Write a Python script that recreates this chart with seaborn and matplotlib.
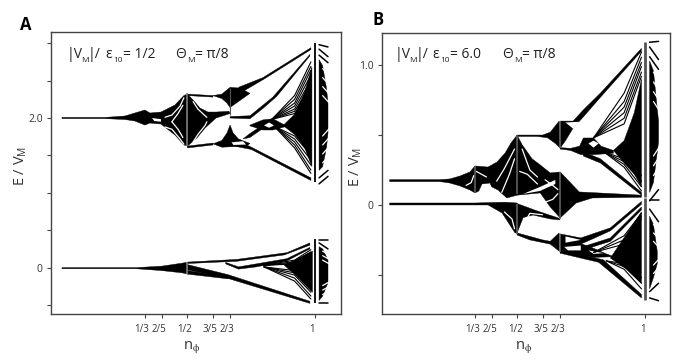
import numpy as np
import pandas as pd
import matplotlib
matplotlib.use("Agg")
import matplotlib.pyplot as plt
from matplotlib import transforms
import seaborn as sns

sns.set_style("white")
plt.rcParams['font.family'] = ['Open Sans', 'DejaVu Sans']
plt.rcParams['mathtext.fontset'] = 'custom'
plt.rcParams['mathtext.rm'] = 'Open Sans'
plt.rcParams['mathtext.it'] = 'Open Sans'
plt.rcParams['mathtext.default'] = 'regular'

TICK_N = [1/3, 2/5, 1/2, 3/5, 2/3, 1]
TICK_LABELS = ['1/3', '2/5', '1/2', '3/5', '2/3', '1']
A_YTICKS = [-0.5, 0, 0.5, 1.0, 1.5, 2.0, 2.5, 3.0]
B_YTICKS = [-0.5, 0, 0.5, 1.0]

# ---------- Panel A: black regions (n_phi, E) ----------
A_TAIL_N = [.008,.176,.255,.294,.333,.353,.396,.451,.486,.5,.5,.486,.451,.396,.353,.333,.294,.255,.176,.008]
A_TAIL_E = [2.008,2.008,2.027,2.067,2.107,2.067,2.08,2.174,2.30,2.321,1.625,1.64,1.773,1.92,1.933,1.906,1.96,1.98,1.992,1.992]
A_STAR_N = [.5,.522,.549,.58,.612,.663,.667,.612,.569,.537,.5]
A_STAR_E = [2.32,2.241,2.134,2.08,2.08,2.09,2.06,2.0,1.866,1.733,1.625]
A_TOPARM_N = [.5,.6,.6,.5]
A_TOPARM_E = [2.32,2.30,2.28,2.30]
A_TOPLOBE_N = [.60,.635,.667,.706,.745,.667,.655,.635]
A_TOPLOBE_E = [2.30,2.32,2.41,2.40,2.33,2.14,2.20,2.26]
A_TOPLINE_N = [.70,.796,.984,.984,.80,.72]
A_TOPLINE_E = [2.41,2.54,2.94,2.915,2.52,2.36]
A_MID_N = [.667,.745,.835,.98,.98,.85,.80,.745,.667]
A_MID_E = [2.02,2.03,2.28,2.85,2.83,2.29,2.14,1.99,2.0]
A_CLUSTER_N = [.745,.796,.835,.89,.835,.796,.745]
A_CLUSTER_E = [1.905,1.975,1.99,1.89,1.84,1.84,1.895]
A_BOTARM_N = [.5,.6,.6,.5]
A_BOTARM_E = [1.625,1.665,1.64,1.60]
A_LOWLOBE_N = [.60,.635,.655,.667,.679,.70,.745,.73,.667,.635]
A_LOWLOBE_E = [1.655,1.70,1.80,1.906,1.80,1.72,1.66,1.62,1.615,1.61]
A_LINK_N = [.718,.745,.80,.80,.74]
A_LINK_E = [1.72,1.74,1.87,1.92,1.78]
A_BOTLINE_N = [.718,.745,.984,.984,.75,.69]
A_BOTLINE_E = [1.66,1.62,1.20,1.165,1.58,1.62]
A_DENSE_N = [.875,.92,.96,.988,.988,.96,.92]
A_DENSE_E = [1.90,2.05,2.35,2.68,1.35,1.60,1.78]
A_LENS_N = [1.016,1.03,1.045,1.051,1.051,1.045,1.03,1.016]
A_LENS_E = [2.78,2.70,2.40,2.20,1.80,1.60,1.35,1.30]

A_LOW_TAIL_N = [.008,.30,.40,.48,.5,.5,.48,.40,.30,.008]
A_LOW_TAIL_E = [.0,.0,.02,.06,.074,-.087,-.07,-.04,-.015,-.015]
A_LOW_TOP_N = [.5,.694,.89,.98,.98,.88,.694,.5]
A_LOW_TOP_E = [.074,.11,.20,.33,.30,.17,.085,.055]
A_LOW_BOT_N = [.5,.66,.98,.98,.65,.5]
A_LOW_BOT_E = [.04,-.095,-.45,-.478,-.135,-.03]
A_LOW_BOT2_N = [.5,.66,.66,.5]
A_LOW_BOT2_E = [-.04,-.12,-.15,-.087]
A_LOW_MID_N = [.65,.70,.77,.89,.98,.98,.89,.77,.70,.65]
A_LOW_MID_E = [.07,.01,.05,.12,.27,.25,.09,.01,-.02,.05]
A_LOW_DENSE_N = [.88,.99,.99,.93]
A_LOW_DENSE_E = [.03,.22,-.33,-.12]
A_LOW_LENS_N = [1.016,1.03,1.051,1.051,1.03,1.016]
A_LOW_LENS_E = [.28,.25,.10,-.20,-.38,-.44]

# white gaps of panel A
A_HOLE1_N = [.361,.396,.396,.37]
A_HOLE1_E = [2.0,1.985,1.95,1.96]
A_HOLE2_N = [.673,.718,.73,.68]
A_HOLE2_E = [1.675,1.69,1.645,1.64]
A_HOLE3_N = [.80,.82,.84,.82]
A_HOLE3_E = [1.90,1.94,1.90,1.87]

# ---------- Panel B: black regions ----------
B_TAIL_N = [0,.197,.236,.276,.315,.335,.335,.315,.276,.236,.197,0]
B_TAIL_E = [.181,.181,.186,.207,.236,.279,.086,.107,.136,.157,.167,.167]
B_MID_N = [.335,.386,.421,.453,.476,.5,.5,.46,.425,.40,.394,.362,.35,.335]
B_MID_E = [.279,.271,.307,.371,.443,.5,.07,.05,.107,.13,.157,.15,.10,.086]
B_STAR_N = [.5,.52,.559,.591,.63,.669,.669,.63,.591,.5]
B_STAR_E = [.5,.43,.33,.286,.229,.236,-.093,-.014,.086,.07]
B_TAIL2_N = [.669,.744,.988,.988,.795,.732,.669]
B_TAIL2_E = [.236,.093,.07,.055,.05,.014,-.093]
B_LOW_N = [0,.276,.335,.45,.5,.5,.492,.441,.386,.335,0]
B_LOW_E = [.014,.014,.014,.02,.014,-.2,-.2,-.057,.0,.0,.0]
B_LOWR_N = [.5,.579,.665,.669,.63,.563,.524,.5]
B_LOWR_E = [.01,-.043,-.095,-.107,-.10,-.072,-.09,-.2]
B_BOTL_N = [.5,.6,.63,.665,.665,.63,.55,.5]
B_BOTL_E = [-.2,-.25,-.26,-.2,-.33,-.28,-.25,-.215]
B_BOTR_N = [.669,.75,.866,.988,.988,.866,.80,.75,.669]
B_BOTR_E = [-.207,-.236,-.164,.025,.005,-.185,-.24,-.28,-.336]
B_BOTEDGE_N = [.669,.756,.839,.988,.988,.82,.75,.669]
B_BOTEDGE_E = [-.336,-.357,-.393,-.64,-.665,-.41,-.38,-.345]
B_BOTSEC_N = [.756,.866,.988,.988,.866,.78]
B_BOTSEC_E = [-.30,-.236,-.015,-.035,-.26,-.31]
B_BOTCL_N = [.669,.756,.80,.85,.88,.80,.75,.669]
B_BOTCL_E = [-.28,-.28,-.31,-.35,-.37,-.375,-.36,-.34]
B_BOTDENSE_N = [.866,.988,.988,.93]
B_BOTDENSE_E = [-.38,-.05,-.56,-.46]
B_UPL_N = [.5,.6,.63,.665,.669,.65,.62,.58,.5]
B_UPL_E = [.5,.5,.52,.6,.407,.44,.48,.49,.49]
B_UPTOP_N = [.669,.72,.76,.827,.988,.988,.827,.76,.72,.69,.669]
B_UPTOP_E = [.6,.6,.68,.80,1.12,1.10,.77,.63,.55,.46,.407]
B_UPCL_N = [.669,.71,.745,.76,.80,.83,.878,.878,.80,.75,.71,.669]
B_UPCL_E = [.41,.405,.42,.479,.479,.42,.39,.37,.36,.36,.39,.40]
B_UPBOT_N = [.76,.827,.988,.988,.827,.76]
B_UPBOT_E = [.38,.33,.09,.07,.30,.35]
B_UPDENSE_N = [.878,.92,.96,.988,.988,.96,.92]
B_UPDENSE_E = [.39,.46,.66,.90,.13,.22,.30]
B_LENS_N = [1.02,1.035,1.055,1.055,1.035,1.02]
B_LENS_E = [1.03,.96,.60,.45,.16,.09]
B_LOWLENS_N = [1.02,1.035,1.05,1.05,1.035,1.02]
B_LOWLENS_E = [-.08,-.14,-.33,-.42,-.52,-.60]

B_HOLE1_N = [.524,.59,.65,.65,.59]
B_HOLE1_E = [.079,.129,.179,.15,.10]
B_HOLE2_N = [.69,.745,.72]
B_HOLE2_E = [.59,.595,.545]
B_HOLE3_N = [.78,.80,.82,.80]
B_HOLE3_E = [.44,.46,.44,.41]
B_HOLE4_N = [.685,.75,.75,.70]
B_HOLE4_E = [-.30,-.29,-.325,-.325]
B_HOLE5_N = [.69,.75,.69]
B_HOLE5_E = [-.225,-.25,-.27]
B_HOLE6_N = [.78,.84,.80]
B_HOLE6_E = [-.325,-.345,-.35]

# ---------- fan lines: common start, energy part way, energy at the end ----------
A_FAN_UP_MID = [2.30, 2.25, 2.20, 2.16, 2.12, 2.09, 2.06]
A_FAN_UP_END = [2.75, 2.69, 2.64, 2.575, 2.51, 2.44, 2.375]
A_FAN_DN_MID = [1.60, 1.64, 1.68, 1.72, 1.76]
A_FAN_DN_END = [1.26, 1.304, 1.371, 1.438, 1.505]
A_LOWFAN_UP_MID = [.10, .08, .06, .05]
A_LOWFAN_UP_END = [.24, .21, .18, .15]
A_LOWFAN_DN_MID = [-.18, -.14, -.10, -.07, -.04]
A_LOWFAN_DN_END = [-.42, -.38, -.33, -.28, -.22]
B_FAN_UP_MID = [.80, .74, .70, .66, .62, .58]
B_FAN_UP_END = [1.093, 1.057, 1.02, .99, .95, .92]
B_FAN_DN_MID = [.27, .29, .31, .33]
B_FAN_DN_END = [.10, .13, .17, .21]
B_LOWFAN_UP_MID = [-.22, -.25, -.28]
B_LOWFAN_UP_END = [-.06, -.08, -.10]
B_LOWFAN_DN_MID = [-.46, -.44, -.42]
B_LOWFAN_DN_END = [-.60, -.56, -.52]

A_WHITE_ARCS = [([.412,.439,.471,.486],[2.01,2.04,2.16,2.27]),
                ([.412,.439,.471,.486],[1.88,1.85,1.72,1.65]),
                ([.439,.463,.482],[1.95,2.06,2.17]),
                ([.439,.463,.482],[1.95,1.85,1.74]),
                ([.522,.541,.569,.576],[2.22,2.12,2.03,2.01]),
                ([.522,.541,.569,.576],[1.68,1.78,1.90,1.95])]
B_WHITE_ARCS = [([.30,.32,.33],[.14,.16,.21]),
                ([.34,.36,.38],[.24,.22,.2]),
                ([.42,.45,.49],[.17,.26,.40]),
                ([.44,.47,.49],[.09,.22,.33]),
                ([.52,.55,.58],[.40,.25,.20]),
                ([.51,.54,.58],[.24,.22,.15]),
                ([.61,.64,.66],[.18,.14,.11]),
                ([.61,.64,.66],[.02,.04,.08]),
                ([.45,.48,.49],[-.05,-.10,-.17]),
                ([.52,.55,.60],[-.16,-.06,-.07])]
A_RIGHT_DASH_HI = [([1.016,1.051],[2.98,2.95]), ([1.016,1.051],[2.92,2.82]), ([1.016,1.051],[2.84,2.74]),
                   ([1.016,1.051],[1.12,1.22]), ([1.016,1.051],[1.20,1.30])]
A_RIGHT_DASH_LO = [([1.016,1.051],[.368,.368]), ([1.016,1.051],[.33,.25]), ([1.016,1.051],[-.475,-.475])]
B_RIGHT_DASH_HI = [([1.02,1.055],[1.164,1.17]), ([1.02,1.055],[1.13,1.04]), ([1.02,1.055],[1.06,.97]),
                   ([1.02,1.055],[.03,.11])]
B_RIGHT_DASH_LO = [([1.02,1.055],[.036,.036]), ([1.02,1.055],[-.03,-.12]), ([1.02,1.055],[-.62,-.56]),
                   ([1.02,1.055],[-.665,-.685])]
# saw-tooth notches cut into the outer ends of the lenses
A_NOTCH_HI = [2.66, 2.54, 2.42, 2.30]
A_NOTCH_LO = [1.40, 1.52, 1.64, 1.76]
A_LOW_NOTCH_HI = [.22, .16, .10]
A_LOW_NOTCH_LO = [-.42, -.36, -.30, -.24]
B_NOTCH_HI = [.95, .88, .81, .74]
B_NOTCH_LO = [.14, .21, .28, .35]
B_LOW_NOTCH_HI = [-.14, -.20, -.26]
B_LOW_NOTCH_LO = [-.55, -.49, -.43]


def lines_frame(paths):
    rows = []
    for i, (ns, es) in enumerate(paths):
        for a, b in zip(ns, es):
            rows.append((i, a, b))
    return pd.DataFrame(rows, columns=['id', 'n', 'E'])


def draw_lines(ax, paths, color='black', lw=1.0):
    sns.lineplot(data=lines_frame(paths), x='n', y='E', units='id', estimator=None,
                 sort=False, color=color, lw=lw, ax=ax, legend=False, zorder=3)


def fan(n0, e0, nm, mids, n1, ends):
    return [([n0, nm, n1], [e0, m, e]) for m, e in zip(mids, ends)]


def notches(n0, n1, starts, de):
    return [([n0, n1], [e, e + de]) for e in starts]


def style(ax, xlim, ylim, yticks, ylabels, ylabel_x, xlabel_x, label_shift):
    ax.set_xlim(*xlim)
    ax.set_ylim(*ylim)
    ax.set_xticks(TICK_N)
    ax.set_xticklabels(TICK_LABELS)
    ax.set_yticks(yticks)
    ax.set_yticklabels(ylabels)
    ax.tick_params(axis='both', length=3, width=0.8, color='#444444', labelsize=7,
                   labelcolor='#333333', pad=4.5, bottom=True, left=True)
    ax.tick_params(axis='y', labelsize=7.5, pad=3)
    off = transforms.ScaledTranslation(label_shift / 100, 0, ax.figure.dpi_scale_trans)
    for t in ax.get_xticklabels():
        t.set_transform(t.get_transform() + off)
    for s in ax.spines.values():
        s.set_color('#444444')
        s.set_linewidth(1.0)
        s.set_visible(True)
    ax.set_xlabel('$n_{\\phi}$', fontsize=10.5, color='#333333')
    ax.set_ylabel('E / $V_M$', fontsize=10.5, color='#333333')
    ax.xaxis.set_label_coords(xlabel_x, -0.09)
    ax.yaxis.set_label_coords(ylabel_x, 0.525)


fig = plt.figure(figsize=(6.92, 3.63), dpi=100)
W, H = 692, 363
axA = fig.add_axes([51/W, (H-314)/H, 290/W, 282/H])
axB = fig.add_axes([382/W, (H-314)/H, 288/W, 281/H])

A_BLACK = [(A_TAIL_N, A_TAIL_E), (A_STAR_N, A_STAR_E), (A_TOPARM_N, A_TOPARM_E), (A_TOPLOBE_N, A_TOPLOBE_E),
           (A_TOPLINE_N, A_TOPLINE_E), (A_MID_N, A_MID_E), (A_CLUSTER_N, A_CLUSTER_E), (A_BOTARM_N, A_BOTARM_E),
           (A_LOWLOBE_N, A_LOWLOBE_E), (A_LINK_N, A_LINK_E), (A_BOTLINE_N, A_BOTLINE_E), (A_DENSE_N, A_DENSE_E),
           (A_LENS_N, A_LENS_E), (A_LOW_TAIL_N, A_LOW_TAIL_E), (A_LOW_TOP_N, A_LOW_TOP_E), (A_LOW_BOT_N, A_LOW_BOT_E),
           (A_LOW_BOT2_N, A_LOW_BOT2_E), (A_LOW_MID_N, A_LOW_MID_E), (A_LOW_DENSE_N, A_LOW_DENSE_E),
           (A_LOW_LENS_N, A_LOW_LENS_E)]
A_WHITE = [(A_HOLE1_N, A_HOLE1_E), (A_HOLE2_N, A_HOLE2_E), (A_HOLE3_N, A_HOLE3_E)]
B_BLACK = [(B_TAIL_N, B_TAIL_E), (B_MID_N, B_MID_E), (B_STAR_N, B_STAR_E), (B_TAIL2_N, B_TAIL2_E), (B_LOW_N, B_LOW_E),
           (B_LOWR_N, B_LOWR_E), (B_BOTL_N, B_BOTL_E), (B_BOTR_N, B_BOTR_E), (B_BOTEDGE_N, B_BOTEDGE_E),
           (B_BOTSEC_N, B_BOTSEC_E), (B_BOTCL_N, B_BOTCL_E), (B_BOTDENSE_N, B_BOTDENSE_E), (B_UPL_N, B_UPL_E),
           (B_UPTOP_N, B_UPTOP_E), (B_UPCL_N, B_UPCL_E), (B_UPBOT_N, B_UPBOT_E), (B_UPDENSE_N, B_UPDENSE_E),
           (B_LENS_N, B_LENS_E), (B_LOWLENS_N, B_LOWLENS_E)]
B_WHITE = [(B_HOLE1_N, B_HOLE1_E), (B_HOLE2_N, B_HOLE2_E), (B_HOLE3_N, B_HOLE3_E), (B_HOLE4_N, B_HOLE4_E),
           (B_HOLE5_N, B_HOLE5_E), (B_HOLE6_N, B_HOLE6_E)]

for ax, blacks, whites in ((axA, A_BLACK, A_WHITE), (axB, B_BLACK, B_WHITE)):
    for ns, es in blacks:
        ax.fill(ns, es, color='black', lw=0.3, zorder=2)
    for ns, es in whites:
        ax.fill(ns, es, color='white', lw=0, zorder=3)

# Panel A lines
draw_lines(axA, fan(.83, 1.98, .92, A_FAN_UP_MID, .984, A_FAN_UP_END) + fan(.84, 1.89, .92, A_FAN_DN_MID, .984, A_FAN_DN_END)
           + fan(.80, .03, .92, A_LOWFAN_UP_MID, .984, A_LOWFAN_UP_END) + fan(.80, .01, .92, A_LOWFAN_DN_MID, .984, A_LOWFAN_DN_END), lw=0.8)
draw_lines(axA, A_RIGHT_DASH_HI + A_RIGHT_DASH_LO, lw=1.1)
draw_lines(axA, notches(1.03, 1.056, A_NOTCH_HI, -.10) + notches(1.03, 1.056, A_NOTCH_LO, .10)
           + notches(1.03, 1.056, A_LOW_NOTCH_HI, -.05) + notches(1.03, 1.056, A_LOW_NOTCH_LO, .05)
           + A_WHITE_ARCS, color='white', lw=0.9)
axA.vlines([1.0, 1.0], [1.15, -.47], [3.0, .38], color='black', lw=1.3, zorder=4)
axA.vlines([.5, .5], [1.62, -.08], [2.33, .08], color='#888888', lw=1.1, zorder=4)
axA.vlines([2/3], [2.04], [2.40], color='#555555', lw=0.8, zorder=4)

# Panel B lines
draw_lines(axB, fan(.80, .48, .92, B_FAN_UP_MID, .988, B_FAN_UP_END) + fan(.84, .38, .92, B_FAN_DN_MID, .988, B_FAN_DN_END)
           + fan(.80, -.34, .92, B_LOWFAN_UP_MID, .988, B_LOWFAN_UP_END) + fan(.85, -.40, .92, B_LOWFAN_DN_MID, .988, B_LOWFAN_DN_END), lw=0.8)
draw_lines(axB, B_RIGHT_DASH_HI + B_RIGHT_DASH_LO, lw=1.1)
draw_lines(axB, notches(1.035, 1.06, B_NOTCH_HI, -.07) + notches(1.035, 1.06, B_NOTCH_LO, .07)
           + notches(1.035, 1.055, B_LOW_NOTCH_HI, -.04) + notches(1.035, 1.055, B_LOW_NOTCH_LO, .04)
           + B_WHITE_ARCS, color='white', lw=0.9)
axB.vlines([1.0, 1.0], [.06, -.68], [1.164, .05], color='#555555', lw=2.0, zorder=4)
axB.vlines([1/3, 1/2, 1/2, 2/3, 2/3, 2/3], [.086, .079, -.21, -.10, .407, -.34], [.279, .5, .01, .236, .60, -.207],
           color='#666666', lw=1.1, zorder=4)

style(axA, (-.035, 1.102), (-.62, 3.15), A_YTICKS, ['', '0', '', '', '', '2.0', '', ''], -0.076, 0.486, -3)
style(axB, (-.03, 1.10), (-.78, 1.23), B_YTICKS, ['', '0', '', '1.0'], -0.0625, 0.49, -2)


def note(dx, last):
    for x, s, size, base in ((67, '|V', 10, 58), (81.5, 'M', 6, 62), (88, '|/', 10, 58), (105, 'ε', 10, 58),
                             (113, '10', 6, 62), (123, last, 10, 58), (175, 'Θ', 10, 58), (187, 'M', 6, 62),
                             (195, '= π/8', 10, 58)):
        fig.text((x + dx) / W, 1 - base / H, s, fontsize=size, color='#222222', va='baseline')


note(0, '= 1/2')
note(327.5, '= 6.0')
fig.text(20/W, 1-25/H, 'A', fontsize=12, fontweight='bold', color='black', va='center')
fig.text(373/W, 1-20/H, 'B', fontsize=12, fontweight='bold', color='black', va='center')

fig.savefig('out.png', dpi=100)
